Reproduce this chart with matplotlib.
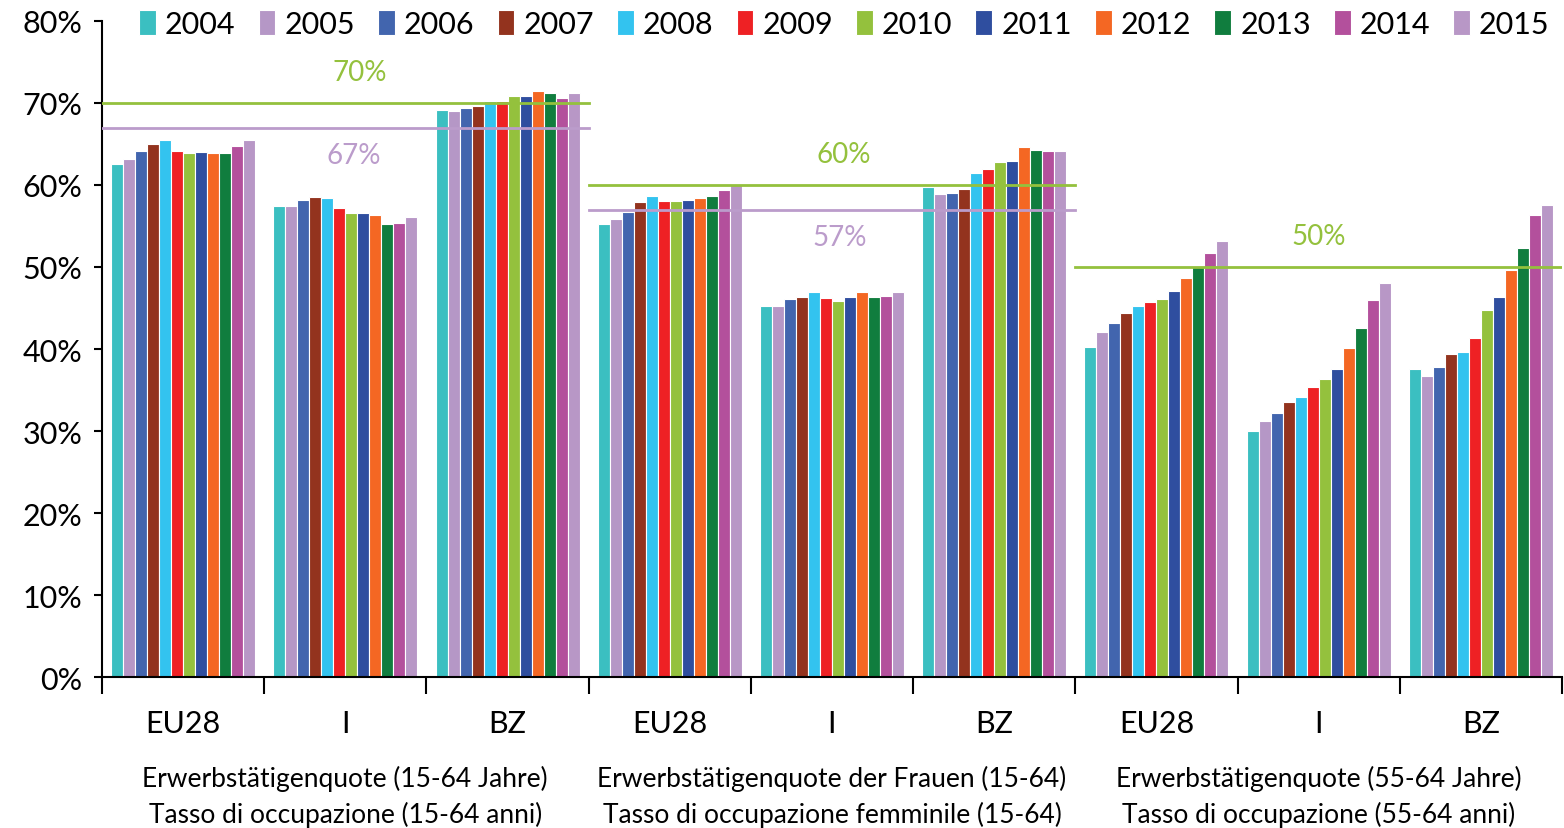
import matplotlib
matplotlib.use("Agg")
import matplotlib.pyplot as plt
import matplotlib.transforms as mtransforms
import numpy as np

plt.rcParams['font.family'] = ['Lato', 'DejaVu Sans']

years = ['2004', '2005', '2006', '2007', '2008', '2009', '2010', '2011', '2012', '2013', '2014', '2015']
colors = ['#3BBFC1', '#B597C6', '#4265AE', '#93331E', '#33C3EF', '#EE2124',
          '#94C13D', '#2F4E9F', '#F46723', '#107D3E', '#B3509C', '#B897C6']

categories = ['EU28', 'I', 'BZ', 'EU28', 'I', 'BZ', 'EU28', 'I', 'BZ']
group_labels_de = ['Erwerbstätigenquote (15-64 Jahre)',
                   'Erwerbstätigenquote der Frauen (15-64)',
                   'Erwerbstätigenquote (55-64 Jahre)']
group_labels_it = ['Tasso di occupazione (15-64 anni)',
                   'Tasso di occupazione femminile (15-64)',
                   'Tasso di occupazione (55-64 anni)']

# values per category (rows) and year (columns), in %
eu28_1564 = [62.5, 63.2, 64.1, 65.0, 65.5, 64.2, 63.9, 64.0, 63.9, 63.9, 64.7, 65.5]
it_1564 = [57.4, 57.4, 58.2, 58.5, 58.4, 57.2, 56.6, 56.6, 56.4, 55.3, 55.4, 56.1]
bz_1564 = [69.2, 69.0, 69.4, 69.6, 70.2, 70.2, 70.8, 70.8, 71.5, 71.2, 70.6, 71.2]
eu28_women = [55.2, 55.9, 56.7, 57.9, 58.6, 58.1, 58.0, 58.2, 58.4, 58.6, 59.4, 60.1]
it_women = [45.2, 45.2, 46.1, 46.4, 47.0, 46.2, 45.9, 46.3, 46.9, 46.3, 46.5, 47.0]
bz_women = [59.7, 58.9, 59.0, 59.5, 61.5, 61.9, 62.8, 62.9, 64.6, 64.3, 64.1, 64.1]
eu28_5564 = [40.2, 42.1, 43.2, 44.4, 45.3, 45.7, 46.1, 47.1, 48.7, 50.0, 51.7, 53.2]
it_5564 = [30.0, 31.2, 32.2, 33.5, 34.1, 35.4, 36.3, 37.6, 40.1, 42.6, 46.0, 48.0]
bz_5564 = [37.6, 36.7, 37.8, 39.4, 39.6, 41.3, 44.7, 46.4, 49.6, 52.3, 56.4, 57.6]

values = np.array([eu28_1564, it_1564, bz_1564, eu28_women, it_women, bz_women,
                   eu28_5564, it_5564, bz_5564])

targets_green = [70, 60, 50]
targets_purple = [67, 57, None]
green = '#94C13D'
purple = '#BB9CCB'

fig = plt.figure(figsize=(15.64, 8.29), dpi=100)
ax = fig.add_axes([0.0652, 0.1821, 0.9335, 0.7914])

n_cat = len(categories)
n_y = len(years)
step = 0.074
x = np.arange(n_cat) + 0.5
for j in range(n_y):
    ax.bar(x + (j - (n_y - 1) / 2) * step, values[:, j], width=step,
           color=colors[j], edgecolor='white', linewidth=0.8, label=years[j], zorder=2)

green_dx = [0.09, 0.07, 0.0]
purple_dx = [0.05, 0.05, 0.0]
for g in range(3):
    x0, x1 = 3 * g, 3 * g + 3
    xm = (x0 + x1) / 2
    tg = targets_green[g]
    ax.plot([x0, x1], [tg, tg], color=green, lw=2.0, zorder=3)
    ax.text(xm + green_dx[g], tg + 3.75, f'{tg}%', color=green, fontsize=20, ha='center', va='center')
    tp = targets_purple[g]
    if tp is not None:
        ax.plot([x0, x1], [tp, tp], color=purple, lw=2.0, zorder=3)
        ax.text(xm + purple_dx[g], tp - 3.35, f'{tp}%', color=purple, fontsize=20, ha='center', va='center')

ax.set_xlim(0, n_cat)
ax.set_ylim(0, 80)
ax.set_yticks(np.arange(0, 81, 10))
ax.set_yticklabels([f'{v}%' for v in range(0, 81, 10)], fontsize=22)
ax.set_xticks(np.arange(0, n_cat + 1))
ax.set_xticklabels([])
ax.set_xticks(x, minor=True)
ax.set_xticklabels(categories, minor=True, fontsize=22)
ax.tick_params(axis='x', which='major', length=12, width=1.5, direction='out')
ax.tick_params(axis='x', which='minor', length=0, pad=23)
ax.tick_params(axis='y', length=6, width=1.5, direction='out', pad=8)
for s in ['top', 'right']:
    ax.spines[s].set_visible(False)
for s in ['left', 'bottom']:
    ax.spines[s].set_linewidth(1.5)

trans = mtransforms.blended_transform_factory(ax.transData, ax.transAxes)
for g in range(3):
    ax.text(3 * g + 1.5, -0.154, group_labels_de[g], transform=trans, ha='center', va='center',
            fontsize=19)
    ax.text(3 * g + 1.5, -0.208, group_labels_it[g], transform=trans, ha='center', va='center',
            fontsize=19)

ax.legend(ncol=12, loc='upper right', bbox_to_anchor=(1.0, 1.035), frameon=False,
          fontsize=22, handlelength=0.55, handleheight=0.85, handletextpad=0.3,
          columnspacing=0.75, borderaxespad=0)

fig.savefig('out.png', dpi=100)
